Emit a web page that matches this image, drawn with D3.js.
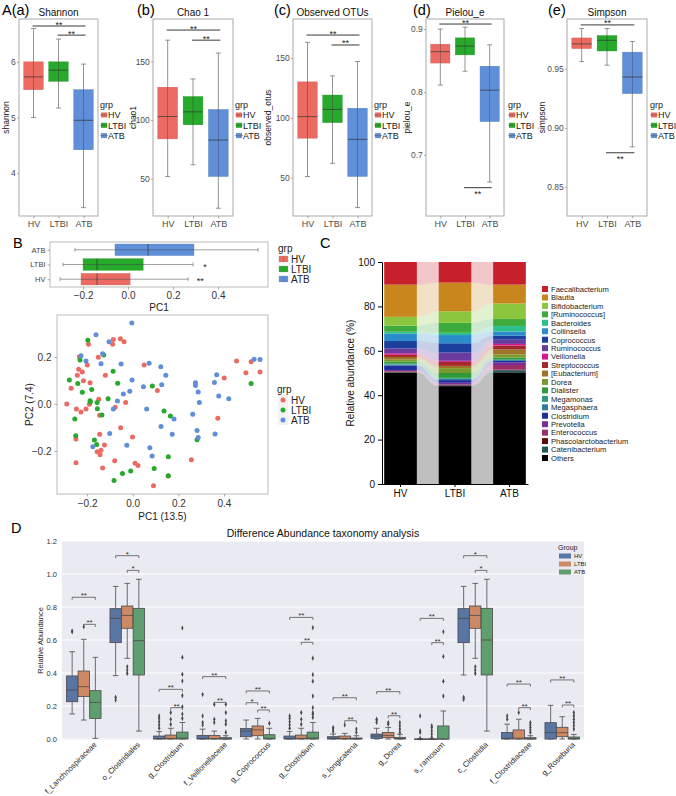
<!DOCTYPE html>
<html><head><meta charset="utf-8">
<script src="https://cdn.jsdelivr.net/npm/d3@7"></script>
<style>body{margin:0;background:#fff;} svg{font-family:"Liberation Sans",Arial,sans-serif;}</style>
</head><body><svg id="fig" width="676" height="796"></svg>
<script>
// ---------------- DATA ----------------
const groups = ["HV","LTBI","ATB"];
const groupColors = ["#EB6B63","#27A92B","#5F8FD8"];

// alpha diversity: [min, q1, median, q3, max] per group
const shannonStats = [[5.0,5.5,5.73,6.0,6.6],[5.17,5.65,5.85,6.0,6.41],[3.38,4.42,4.95,5.5,5.96]];
const chao1Stats   = [[52,84,103,128,168],[62,96,107,120,135],[25,52,83,109,157]];
const otusStats    = [[51,83,101,130,163],[62,96,107,119,135],[25,51,82,108,147]];
const pielouStats  = [[0.811,0.846,0.864,0.876,0.90],[0.833,0.859,0.873,0.886,0.903],[0.657,0.753,0.803,0.841,0.875]];
const simpsonStats = [[0.956,0.967,0.971,0.976,0.984],[0.953,0.965,0.974,0.978,0.984],[0.884,0.929,0.943,0.964,0.973]];
const shannonTicks = [4,5,6];
const chao1Ticks = [50,100,150];
const otusTicks = [50,100,150];
const pielouTicks = [0.7,0.8,0.9];
const simpsonTicks = [0.85,0.90,0.95];
// significance: [fromGroup, toGroup, yValue, label, below]
const shannonSig = [[0,2,6.644,"**",0],[1,2,6.48,"**",0]];
const chao1Sig = [[0,2,176.6,"**",0],[1,2,168,"**",0]];
const otusSig = [[0,2,169.1,"**",0],[1,2,160.8,"**",0]];
const pielouSig = [[0,2,0.908,"**",0],[1,2,0.648,"**",1]];
const simpsonSig = [[0,2,0.987,"**",0],[1,2,0.879,"**",1]];

// B: PC1 boxplot stats
const pc1Stats = [[-0.302,-0.209,-0.138,0.009,0.267],[-0.289,-0.2,-0.138,0.067,0.289],[-0.236,-0.058,0.089,0.293,0.578]];
const pc1Sig = ["**","*",""];
const pc1Ticks = [-0.2,0.0,0.2,0.4];
const pc2Ticks = [-0.2,0.0,0.2];
// B: PCoA points [PC1, PC2]
const hvPts = [[-0.194,0.254],[-0.085,0.275],[-0.054,0.278],[-0.038,0.265],[-0.088,0.254],[-0.151,0.199],[-0.234,0.201],[-0.199,0.166],[-0.237,0.148],[-0.221,0.136],[-0.243,0.123],[-0.216,0.099],[-0.187,0.091],[-0.120,0.122],[-0.270,0.067],[-0.149,0.020],[-0.190,-0.001],[-0.289,0.0],[-0.031,0.006],[-0.077,-0.014],[-0.247,-0.021],[-0.205,-0.021],[-0.227,-0.034],[-0.145,-0.048],[0.050,0.166],[0.108,0.058],[-0.053,-0.101],[-0.001,-0.140],[-0.145,-0.129],[-0.249,-0.149],[-0.124,-0.174],[-0.139,-0.197],[-0.156,-0.203],[-0.143,-0.216],[-0.249,-0.250],[-0.079,-0.241],[-0.132,-0.272],[0.010,-0.252],[0.023,-0.262],[0.155,-0.306],[0.091,-0.348],[0.257,-0.237],[0.373,-0.061],[0.401,0.111],[0.455,0.183],[0.496,0.133],[0.519,0.180],[0.558,0.136]];
const ltbiPts = [[-0.197,0.271],[-0.127,0.209],[-0.231,0.187],[-0.278,0.102],[-0.241,0.087],[-0.086,0.140],[-0.066,0.088],[-0.180,0.062],[-0.221,0.050],[-0.187,0.014],[-0.186,0.009],[-0.156,0.006],[-0.108,0.023],[-0.155,-0.020],[-0.135,-0.047],[-0.254,-0.064],[0.086,0.077],[0.137,-0.030],[0.165,-0.051],[-0.250,-0.135],[-0.168,-0.153],[-0.158,-0.172],[0.156,-0.224],[0.094,-0.274],[-0.045,-0.296],[-0.009,-0.285],[-0.082,-0.325],[0.156,-0.305],[0.282,-0.152],[0.519,0.087]];
const atbPts = [[-0.161,0.295],[-0.104,0.265],[-0.004,0.345],[-0.132,0.214],[-0.227,0.206],[-0.205,0.183],[-0.139,0.172],[-0.051,0.170],[-0.067,0.013],[-0.041,0.043],[-0.013,0.054],[-0.085,-0.021],[-0.003,0.102],[0.072,0.174],[0.123,0.159],[0.145,0.122],[0.047,0.074],[0.127,0.082],[0.061,-0.021],[0.181,-0.064],[0.124,-0.096],[0.173,-0.129],[-0.101,-0.125],[-0.175,-0.182],[-0.026,-0.176],[0.075,-0.186],[0.085,-0.221],[0.275,0.091],[0.275,0.079],[0.287,0.051],[0.292,0.006],[0.263,-0.044],[0.282,-0.113],[0.287,-0.143],[0.361,-0.128],[0.358,0.092],[0.368,0.125],[0.377,0.034],[0.421,0.023],[0.532,0.191],[0.558,0.190]];

// C: relative abundance (%)
const taxa = ["Faecalibacterium","Blautia","Bifidobacterium","[Ruminococcus]","Bacteroides","Collinsella","Coprococcus","Ruminococcus","Veillonella","Streptococcus","[Eubacterium]","Dorea","Dialister","Megamonas","Megasphaera","Clostridium","Prevotella","Enterococcus","Phascolarctobacterium","Catenibacterium","Others"];
const taxaColors = ["#C8202A","#C8861C","#8CC63F","#3DAA3D","#2EBF8E","#2A8CCB","#1C3F9C","#6A3A9C","#D6198A","#A32A2A","#9E7426","#7A9A2E","#2E9A3A","#2E9A7A","#2E7AA0","#1E2E9A","#7B2E9A","#9A2E6A","#5A0E0E","#1E5A5A","#000000"];
const hvAbund   = [10.2,14.5,4.0,2.7,0.9,3.3,3.3,2.2,0.7,1.0,1.2,0.9,0.9,0.4,0.4,2.1,0.4,0.3,0.3,0.2,50.1];
const ltbiAbund = [9.3,12.9,5.2,4.5,1.0,3.7,4.2,3.7,0.5,1.8,1.0,2.2,2.2,0.4,0.6,1.2,0.7,0.3,0.2,0.3,44.1];
const atbAbund  = [10.2,8.5,7.0,3.1,2.5,1.9,1.8,1.9,0.7,1.8,2.2,1.5,0.7,0.4,0.4,0.6,1.2,2.1,0.3,0.9,50.3];
const abundTicks = [0,20,40,60,80,100];

// D: differential abundance boxplots
const dCats = ["f_Lanchnospiraceae","o_Clostridiales","g_Clostridium","f_Veillonellaceae","g_Coprococcus","g_Clostridium","s_longicatena","g_Dorea","s_ramosum","c_Clostridia","f_Clostridiaceae","g_Roseburia"];
const dColors = ["#5875A4","#CC8963","#5F9E6E"];
const dHV = [[0.152,0.226,0.297,0.382,0.529],[0.384,0.584,0.731,0.79,0.925],[0,0,0.002,0.018,0.045],[0,0,0.002,0.022,0.06],[0,0.014,0.048,0.063,0.115],[0,0,0.002,0.018,0.045],[0,0,0.004,0.014,0.03],[0,0.004,0.018,0.03,0.065],[0,0,0,0,0],[0.388,0.584,0.731,0.79,0.925],[0,0,0.004,0.04,0.09],[0,0,0.04,0.099,0.204]];
const dLTBI = [[0.115,0.257,0.317,0.412,0.604],[0.489,0.671,0.749,0.806,0.943],[0,0,0.004,0.024,0.065],[0,0,0.003,0.022,0.048],[0,0.02,0.055,0.079,0.125],[0,0,0.004,0.024,0.065],[0,0,0.003,0.018,0.034],[0,0.008,0.022,0.04,0.07],[0,0,0,0,0],[0.489,0.671,0.749,0.806,0.943],[0,0,0.005,0.055,0.12],[0,0.014,0.038,0.071,0.135]];
const dATB = [[0.004,0.125,0.222,0.293,0.495],[0.048,0.388,0.596,0.792,0.968],[0,0,0.006,0.042,0.1],[0,0,0.001,0.008,0.02],[0,0,0.004,0.026,0.065],[0,0,0.006,0.042,0.1],[0,0,0.001,0.006,0.02],[0,0,0.003,0.01,0.028],[0,0,0,0.079,0.17],[0.048,0.388,0.6,0.792,0.968],[0,0,0.001,0.008,0.02],[0,0,0.002,0.012,0.028]];
const dHVOut = [[0.65,0.655],[0.253,0.236],[0.065,0.085,0.105,0.125,0.14],[0.085,0.1,0.14,0.27],[],[0.065,0.085,0.105,0.125,0.14],[0.045,0.06,0.07],[0.1,0.115,0.12],[0.005,0.04,0.05,0.14],[0.253,0.24],[0.12,0.14],[]];
const dLTBIOut = [[0.68],[0.438,0.418,0.398],[0.09,0.12,0.16],[0.1,0.12,0.21],[],[0.09,0.12,0.16],[0.085],[0.09,0.1],[0.01,0.03,0.05,0.07,0.08],[0.438,0.418,0.398],[0.16],[]];
const dATBOut = [[],[],[0.125,0.152,0.196,0.263,0.352,0.392,0.495,0.673],[0.04,0.09,0.11,0.16,0.21],[0.095],[0.13,0.15,0.16,0.19,0.26,0.35,0.39,0.49,0.675],[0.04,0.06],[0.04,0.06,0.08,0.1],[0.26,0.35,0.5,0.65],[],[0.04,0.055,0.07,0.085,0.1],[0.06,0.08,0.1,0.12,0.14,0.16]];
// [category, fromHue, toHue, y, label]
const dSig = [[0,0,2,0.859,"**"],[0,1,2,0.695,"**"],[1,0,2,1.111,"*"],[1,1,2,1.022,"*"],[2,0,2,0.301,"**"],[2,1,2,0.19,"**"],[3,0,2,0.378,"**"],[3,1,2,0.222,"**"],[4,0,2,0.291,"**"],[4,0,1,0.22,"*"],[4,1,2,0.176,"**"],[5,0,2,0.737,"**"],[5,1,2,0.586,"**"],[6,0,2,0.25,"**"],[6,1,2,0.111,"**"],[7,0,2,0.287,"**"],[7,1,2,0.141,"**"],[8,0,2,0.731,"**"],[8,1,2,0.584,"**"],[9,0,2,1.111,"*"],[9,1,2,1.022,"*"],[10,0,2,0.333,"**"],[10,1,2,0.19,"**"],[11,0,2,0.358,"**"],[11,1,2,0.206,"**"]];
const dTicks = [0.0,0.2,0.4,0.6,0.8,1.0,1.2];

// ---------------- DRAW ----------------
const svg = d3.select("#fig");
const GREY = "#4d4d4d";
function txt(g,x,y,s,size,opt={}){
  const t=g.append("text").attr("x",x).attr("y",y).attr("font-size",size).attr("fill",opt.fill||"#111").text(s);
  if(opt.anchor) t.attr("text-anchor",opt.anchor);
  if(opt.rot!==undefined) t.attr("transform",`rotate(${opt.rot},${x},${y})`);
  return t;
}
function styleAxis(a,size,fill){
  a.select(".domain").remove();
  a.selectAll(".tick line").attr("stroke","#777").attr("stroke-width",0.6);
  a.selectAll(".tick text").attr("font-size",size).attr("fill",fill||GREY).attr("font-family","Liberation Sans, Arial, sans-serif");
}

// ----- Panel A -----
const Y0=19, Y1=216;
function alphaPanel(p){
  const g=svg.append("g");
  const x=d3.scalePoint().domain(groups).range([p.x0,p.x1]).padding(0.58);
  const y=d3.scaleLinear().domain(p.domain).range([Y1,Y0]);
  const step=x.step(), bw=step*0.78;
  g.append("rect").attr("x",p.x0).attr("y",Y0).attr("width",p.x1-p.x0).attr("height",Y1-Y0).attr("fill","#fff").attr("stroke","#aaa").attr("stroke-width",1);
  const ay=g.append("g").attr("transform",`translate(${p.x0},0)`).call(d3.axisLeft(y).tickValues(p.ticks).tickSize(2).tickPadding(1.2).tickFormat(p.fmt));
  styleAxis(ay,8.5);
  const ax=g.append("g").attr("transform",`translate(0,${Y1})`).call(d3.axisBottom(x).tickSize(2.5).tickPadding(2));
  styleAxis(ax,9);
  groups.forEach((gr,i)=>{
    const s=p.stats[i], cx=x(gr), col=groupColors[i];
    g.append("line").attr("x1",cx).attr("x2",cx).attr("y1",y(s[0])).attr("y2",y(s[4])).attr("stroke","#666").attr("stroke-width",0.7);
    [s[0],s[4]].forEach(v=>g.append("line").attr("x1",cx-2.5).attr("x2",cx+2.5).attr("y1",y(v)).attr("y2",y(v)).attr("stroke","#666").attr("stroke-width",0.7));
    g.append("rect").attr("x",cx-bw/2).attr("width",bw).attr("y",y(s[3])).attr("height",y(s[1])-y(s[3])).attr("fill",col).attr("stroke",d3.color(col).darker(0.4)).attr("stroke-width",0.4);
    g.append("line").attr("x1",cx).attr("x2",cx).attr("y1",y(s[3])).attr("y2",y(s[1])).attr("stroke","#444").attr("stroke-width",0.6).attr("opacity",0.8);
    g.append("line").attr("x1",cx-bw/2).attr("x2",cx+bw/2).attr("y1",y(s[2])).attr("y2",y(s[2])).attr("stroke","#333").attr("stroke-width",0.7);
  });
  p.sig.forEach(([a,b,v,lab,below])=>{
    const xa=x(groups[a])-1, xb=x(groups[b])+2, yy=y(v);
    g.append("line").attr("x1",xa).attr("x2",xb).attr("y1",yy).attr("y2",yy).attr("stroke","#222").attr("stroke-width",0.9);
    txt(g,(xa+xb)/2,below?yy+9:yy+1.5,lab,9,{anchor:"middle",fill:"#222"});
  });
  txt(g,(p.x0+p.x1)/2,16,p.title,10,{anchor:"middle"});
  txt(g,p.tagX,15,p.tag,14.5,{fill:"#000"});
  txt(g,p.ylabX,(Y0+Y1)/2,p.ylab,8.5,{anchor:"middle",rot:-90,fill:"#222"}).attr("dy","0.35em");
  const lg=g.append("g");
  txt(lg,p.legX,108,"grp",9,{fill:"#222"});
  groups.forEach((gr,i)=>{
    const cy=115+i*10.3;
    lg.append("rect").attr("x",p.legX+1).attr("y",cy-2.5).attr("width",6).attr("height",5).attr("fill",groupColors[i]);
    lg.append("line").attr("x1",p.legX).attr("x2",p.legX+8).attr("y1",cy).attr("y2",cy).attr("stroke","#555").attr("stroke-width",0.5);
    txt(lg,p.legX+8,cy+3.3,gr,9,{fill:"#222"});
  });
}
const f0=d3.format("d"), f1=d3.format(".1f"), f2=d3.format(".2f");
alphaPanel({x0:19,x1:98,domain:[3.23,6.77],ticks:shannonTicks,fmt:f0,stats:shannonStats,sig:shannonSig,title:"Shannon",tag:"A(a)",tagX:2,ylab:"shannon",ylabX:6,legX:100});
alphaPanel({x0:153,x1:233,domain:[18.4,186],ticks:chao1Ticks,fmt:f0,stats:chao1Stats,sig:chao1Sig,title:"Chao 1",tag:"(b)",tagX:137,ylab:"chao1",ylabX:133,legX:235});
alphaPanel({x0:293,x1:372,domain:[18,182.5],ticks:otusTicks,fmt:f0,stats:otusStats,sig:otusSig,title:"Observed OTUs",tag:"(c)",tagX:274,ylab:"observed_otus",ylabX:268,legX:374});
alphaPanel({x0:426,x1:504,domain:[0.603,0.916],ticks:pielouTicks,fmt:f1,stats:pielouStats,sig:pielouSig,title:"Pielou_e",tag:"(d)",tagX:413,ylab:"pielou_e",ylabX:407,legX:508});
alphaPanel({x0:567,x1:647,domain:[0.8256,0.992],ticks:simpsonTicks,fmt:f2,stats:simpsonStats,sig:simpsonSig,title:"Simpson",tag:"(e)",tagX:548,ylab:"simpson",ylabX:542,legX:650});

// ----- Panel B top: PC1 boxplot -----
(function(){
  const g=svg.append("g");
  const bx0=50,bx1=268,by0=242,by1=287;
  txt(g,13,248,"B",14.5,{fill:"#000"});
  const x=d3.scaleLinear().domain([-0.347,0.622]).range([bx0,bx1]);
  const order=["ATB","LTBI","HV"];
  const y=d3.scalePoint().domain(order).range([by0,by1]).padding(0.53);
  const bh=y.step()*0.78;
  g.append("rect").attr("x",bx0).attr("y",by0).attr("width",bx1-bx0).attr("height",by1-by0).attr("fill","#fff").attr("stroke","#bbb");
  const ax=g.append("g").attr("transform",`translate(0,${by1})`).call(d3.axisBottom(x).tickValues(pc1Ticks).tickSize(2.5).tickPadding(2).tickFormat(f1));
  styleAxis(ax,10,"#333");
  const ay=g.append("g").attr("transform",`translate(${bx0},0)`).call(d3.axisLeft(y).tickSize(2.5).tickPadding(2));
  styleAxis(ay,7.5,"#444");
  groups.forEach((gr,i)=>{
    const s=pc1Stats[i], cy=y(gr), col=groupColors[i];
    g.append("line").attr("x1",x(s[0])).attr("x2",x(s[4])).attr("y1",cy).attr("y2",cy).attr("stroke","#777").attr("stroke-width",0.7);
    [s[0],s[4]].forEach(v=>g.append("line").attr("x1",x(v)).attr("x2",x(v)).attr("y1",cy-2).attr("y2",cy+2).attr("stroke","#777").attr("stroke-width",0.7));
    g.append("rect").attr("x",x(s[1])).attr("width",x(s[3])-x(s[1])).attr("y",cy-bh/2).attr("height",bh).attr("fill",col).attr("stroke",d3.color(col).darker(0.4)).attr("stroke-width",0.4);
    g.append("line").attr("x1",x(s[1])).attr("x2",x(s[3])).attr("y1",cy).attr("y2",cy).attr("stroke","#444").attr("stroke-width",0.6).attr("opacity",0.8);
    g.append("line").attr("x1",x(s[2])).attr("x2",x(s[2])).attr("y1",cy-bh/2).attr("y2",cy+bh/2).attr("stroke","#333").attr("stroke-width",0.7);
    if(pc1Sig[i]) txt(g,x(s[4])+12,cy+5,pc1Sig[i],9,{fill:"#222",anchor:"middle"});
  });
  txt(g,(bx0+bx1)/2,311,"PC1",10,{anchor:"middle",fill:"#222"});
  txt(g,278,252,"grp",10,{fill:"#222"});
  groups.forEach((gr,i)=>{
    const cy=259+i*10;
    g.append("rect").attr("x",279).attr("y",cy-3).attr("width",9).attr("height",6).attr("fill",groupColors[i]).attr("stroke","#999").attr("stroke-width",0.3);
    g.append("line").attr("x1",283.5).attr("x2",283.5).attr("y1",cy-3).attr("y2",cy+3).attr("stroke","#666").attr("stroke-width",0.4);
    txt(g,291,cy+3.5,gr,10,{fill:"#222"});
  });
})();

// ----- Panel B bottom: PCoA scatter -----
(function(){
  const g=svg.append("g");
  const sx0=57,sx1=268,sy0=315,sy1=494;
  const x=d3.scaleLinear().domain([-0.332,0.593]).range([sx0,sx1]);
  const y=d3.scaleLinear().domain([-0.383,0.379]).range([sy1,sy0]);
  g.append("rect").attr("x",sx0).attr("y",sy0).attr("width",sx1-sx0).attr("height",sy1-sy0).attr("fill","#fff").attr("stroke","#bbb");
  const ax=g.append("g").attr("transform",`translate(0,${sy1})`).call(d3.axisBottom(x).tickValues(pc1Ticks).tickSize(2.5).tickPadding(3).tickFormat(f1));
  styleAxis(ax,10,"#333");
  const ay=g.append("g").attr("transform",`translate(${sx0},0)`).call(d3.axisLeft(y).tickValues(pc2Ticks).tickSize(2.5).tickPadding(3).tickFormat(f1));
  styleAxis(ay,10,"#333");
  [hvPts,ltbiPts,atbPts].forEach((pts,i)=>{
    g.selectAll(null).data(pts).enter().append("circle").attr("cx",d=>x(d[0])).attr("cy",d=>y(d[1])).attr("r",2.5).attr("fill",groupColors[i]);
  });
  txt(g,(sx0+sx1)/2,520,"PC1 (13.5)",10,{anchor:"middle",fill:"#222"});
  txt(g,29,(sy0+sy1)/2,"PC2 (7.4)",10,{anchor:"middle",rot:-90,fill:"#222"}).attr("dy","0.35em");
  txt(g,277,393,"grp",10,{fill:"#222"});
  groups.forEach((gr,i)=>{
    const cy=400+i*10;
    g.append("rect").attr("x",278).attr("y",cy-5).attr("width",10).attr("height",10).attr("fill","#f2f2f2");
    g.append("circle").attr("cx",283).attr("cy",cy).attr("r",2.5).attr("fill",groupColors[i]);
    txt(g,291,cy+3.5,gr,10,{fill:"#222"});
  });
})();

// ----- Panel C: stacked bars with flows -----
(function(){
  const g=svg.append("g");
  txt(g,320,248,"C",14.5,{fill:"#000"});
  const abund=[hvAbund,ltbiAbund,atbAbund];
  const rows=groups.map((gr,i)=>{const o={group:gr}; taxa.forEach((t,j)=>o[t]=abund[i][j]); return o;});
  const keys=taxa.slice().reverse();
  const series=d3.stack().keys(keys)(rows);
  const x=d3.scaleBand().domain(groups).range([382,528]).paddingInner(0.4).paddingOuter(0.04);
  const y=d3.scaleLinear().domain([0,100]).range([484,262]);
  const colorOf=t=>taxaColors[taxa.indexOf(t)];
  series.forEach(s=>{
    for(let i=0;i<2;i++){
      const pts=[{x:x(groups[i])+x.bandwidth(),d:s[i]},{x:x(groups[i+1]),d:s[i+1]}];
      const area=d3.area().x(p=>p.x).y0(p=>y(p.d[0])).y1(p=>y(p.d[1])).curve(d3.curveBumpX);
      g.append("path").attr("d",area(pts)).attr("fill",colorOf(s.key)).attr("opacity",0.25);
    }
  });
  series.forEach(s=>{
    g.selectAll(null).data(s).enter().append("rect").attr("x",(d,i)=>x(groups[i])).attr("width",x.bandwidth())
      .attr("y",d=>y(d[1])).attr("height",d=>y(d[0])-y(d[1])).attr("fill",colorOf(s.key));
  });
  const ay=g.append("g").attr("transform","translate(382,0)").call(d3.axisLeft(y).tickValues(abundTicks).tickSize(4).tickPadding(3));
  ay.select(".domain").attr("stroke","#000");
  ay.selectAll(".tick line").attr("stroke","#000");
  ay.selectAll(".tick text").attr("font-size",10).attr("fill","#111");
  const ax=g.append("g").attr("transform","translate(0,484)").call(d3.axisBottom(x).tickSize(3).tickPadding(3).tickSizeOuter(0));
  ax.select(".domain").attr("stroke","#000");
  ax.selectAll(".tick line").attr("stroke","#000");
  ax.selectAll(".tick text").attr("font-size",10).attr("fill","#111");
  txt(g,350,373,"Relative abundance (%)",10,{anchor:"middle",rot:-90,fill:"#111"}).attr("dy","0.35em");
  taxa.forEach((t,i)=>{
    const cy=289+i*8.45;
    g.append("rect").attr("x",542).attr("y",cy-3).attr("width",6).attr("height",6).attr("fill",taxaColors[i]);
    txt(g,551,cy+2.8,t,7.6,{fill:"#222"});
  });
})();

// ----- Panel D -----
(function(){
  const g=svg.append("g");
  txt(g,11,533,"D",14.5,{fill:"#000"});
  const px0=62,px1=584,py0=541,py1=740;
  const x=d3.scaleBand().domain(d3.range(dCats.length)).range([px0,px1]);
  const y=d3.scaleLinear().domain([-0.006,1.2]).range([py1,py0]);
  g.append("rect").attr("x",px0).attr("y",py0).attr("width",px1-px0).attr("height",py1-py0).attr("fill","#EAEAF2");
  dTicks.forEach(t=>g.append("line").attr("x1",px0).attr("x2",px1).attr("y1",y(t)).attr("y2",y(t)).attr("stroke","#fff").attr("stroke-width",1));
  const ay=g.append("g").attr("transform",`translate(${px0},0)`).call(d3.axisLeft(y).tickValues(dTicks).tickSize(0).tickPadding(5).tickFormat(f1));
  styleAxis(ay,7.5,"#333");
  txt(g,40,(py0+py1)/2,"Relative Abundance",7.5,{anchor:"middle",rot:-90,fill:"#222"}).attr("dy","0.35em");
  txt(g,(px0+px1)/2,537,"Difference Abundance taxonomy analysis",10.5,{anchor:"middle",fill:"#111"});
  const bw=x.bandwidth(), hw=bw*0.8/3;
  const hx=(i,h)=>x(i)+bw/2+(h-1)*hw;
  const stats=[dHV,dLTBI,dATB], outs=[dHVOut,dLTBIOut,dATBOut];
  const EDGE="#4a4a4a";
  const diamond=d3.symbol().type(d3.symbolDiamond).size(9);
  dCats.forEach((c,i)=>{
    for(let h=0;h<3;h++){
      const s=stats[h][i], cx=hx(i,h), w=hw*0.98;
      g.append("line").attr("x1",cx).attr("x2",cx).attr("y1",y(s[3])).attr("y2",y(s[4])).attr("stroke",EDGE).attr("stroke-width",0.8);
      g.append("line").attr("x1",cx).attr("x2",cx).attr("y1",y(s[1])).attr("y2",y(s[0])).attr("stroke",EDGE).attr("stroke-width",0.8);
      [s[0],s[4]].forEach(v=>g.append("line").attr("x1",cx-w/4).attr("x2",cx+w/4).attr("y1",y(v)).attr("y2",y(v)).attr("stroke",EDGE).attr("stroke-width",0.8));
      g.append("rect").attr("x",cx-w/2).attr("width",w).attr("y",y(s[3])).attr("height",Math.max(0.5,y(s[1])-y(s[3]))).attr("fill",dColors[h]).attr("stroke",EDGE).attr("stroke-width",0.8);
      g.append("line").attr("x1",cx-w/2).attr("x2",cx+w/2).attr("y1",y(s[2])).attr("y2",y(s[2])).attr("stroke",EDGE).attr("stroke-width",0.8);
      outs[h][i].forEach(v=>g.append("path").attr("d",diamond()).attr("transform",`translate(${cx},${y(v)}) scale(0.7,1)`).attr("fill",EDGE));
    }
    const lx=x(i)+bw/2+10, ly=742;
    txt(g,lx,ly,c,7.7,{anchor:"end",rot:-45,fill:"#222"}).attr("dy","0.6em");
  });
  dSig.forEach(([i,a,b,v,lab])=>{
    const xa=hx(i,a), xb=hx(i,b), yy=y(v);
    g.append("path").attr("d",`M${xa},${yy+2.5}V${yy}H${xb}V${yy+2.5}`).attr("fill","none").attr("stroke","#555").attr("stroke-width",0.8);
    txt(g,(xa+xb)/2,yy+1,lab,8,{anchor:"middle",fill:"#333"});
  });
  txt(g,558,550,"Group",7,{fill:"#222"});
  groups.forEach((gr,i)=>{
    const cy=556+i*8;
    g.append("rect").attr("x",559).attr("y",cy-2.5).attr("width",12).attr("height",5).attr("fill",dColors[i]);
    txt(g,574,cy+2.2,gr,6,{fill:"#222"});
  });
})();
</script></body></html>
